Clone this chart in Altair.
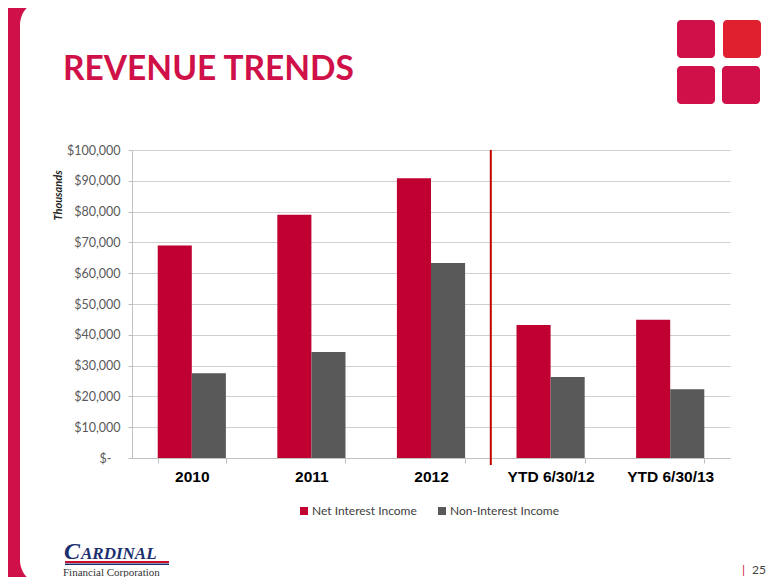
import altair as alt
import pandas as pd

# ---- data ----
categories = ["2010", "2011", "2012", "YTD 6/30/12", "YTD 6/30/13"]
net_interest = [69000, 79000, 90800, 43200, 44900]
non_interest = [27500, 34400, 63300, 26300, 22300]
series_names = ["Net Interest Income", "Non-Interest Income"]
series_colors = ["#C00030", "#595959"]
divider_category = "YTD 6/30/12"
y_ticks = [0, 10000, 20000, 30000, 40000, 50000, 60000, 70000, 80000, 90000, 100000]

rows = []
for c, a, b in zip(categories, net_interest, non_interest):
    rows.append({"category": c, "series": series_names[0], "value": a})
    rows.append({"category": c, "series": series_names[1], "value": b})
df = pd.DataFrame(rows)

# ---- layout ----
W, H = 598, 308
OX, OY = 132, 150  # page position of plot origin
PAD_IN, PAD_OUT = 0.43, 0.215
step = W / len(categories)

def px(x):
    return x - OX

def py(y):
    return y - OY

XFONT = "Liberation Sans, Arial, sans-serif"
BODY = "Lato, Open Sans, sans-serif"
SERIF = "Liberation Serif, DejaVu Serif, serif"
ACCENT = "#D01048"

one = alt.Data(values=[{"k": 0}])

def rect(x1, x2, y1, y2, color, **kw):
    return alt.Chart(one).mark_rect(color=color, **kw).encode(
        x=alt.value(px(x1)), x2=alt.value(px(x2)),
        y=alt.value(py(y1)), y2=alt.value(py(y2)))

def text(t, x, y, **kw):
    return alt.Chart(one).mark_text(text=t, align="left", baseline="alphabetic", **kw).encode(
        x=alt.value(px(x)), y=alt.value(py(y)))

# ---- decorations ----
deco = [
    rect(8, 20, 8, 577, ACCENT),
    rect(20, 50, 8, 40, ACCENT),
    rect(20, 80, 0, 60, "white", cornerRadiusTopLeft=25),
    rect(20, 50, 540, 577, ACCENT),
    rect(20, 80, 520, 585, "white", cornerRadiusBottomLeft=25),
    rect(677, 715, 20, 58, ACCENT, cornerRadius=4),
    rect(723, 761, 20, 58, "#E0202E", cornerRadius=4),
    rect(677, 715, 66, 104, ACCENT, cornerRadius=4),
    rect(722, 760, 66, 104, ACCENT, cornerRadius=4),
]

title = text("REVENUE TRENDS", 63, 80, font=BODY, fontSize=33.5,
             fontWeight="bold", color=ACCENT)

logo = [
    text("C", 64, 559, font=SERIF, fontSize=24, fontWeight="bold",
         fontStyle="italic", color="#1B2F6E"),
    text("ARDINAL", 81, 559, font=SERIF, fontSize=17, fontWeight="bold",
         fontStyle="italic", color="#1B2F6E"),
    rect(65, 169, 561, 563, "#C8102E"),
    rect(65, 169, 563.5, 565, "#1B2F6E"),
    text("Financial Corporation", 63, 576, font=SERIF, fontSize=11,
         color="#333333"),
    text("|", 742, 574, font=BODY, fontSize=12, color=ACCENT),
    text("25", 752, 574, font=BODY, fontSize=12, color="#404040"),
]

# ---- chart ----
x_scale = alt.Scale(domain=categories, paddingInner=PAD_IN, paddingOuter=PAD_OUT)
y_scale = alt.Scale(domain=[0, 100000], nice=False)

x_axis = alt.Axis(title=None, labelAngle=0, tickBand="extent",
                  tickSize=5, tickColor="#BFBFBF", domainColor="#BFBFBF",
                  labelFont=XFONT, labelFontSize=15.5, labelFontWeight="bold",
                  labelColor="#000000", labelPadding=6, grid=False)
y_axis = alt.Axis(title="Thousands", values=y_ticks, labelOverlap=False,
                  labelExpr="datum.value == 0 ? '$-' : '$' + format(datum.value, ',')",
                  labelFont=BODY, labelFontSize=12.5, labelColor="#595959",
                  labelPadding={"condition": {"test": "datum.value == 0", "value": 17},
                                "value": 8},
                  tickSize=4, tickColor="#BFBFBF",
                  domainColor="#BFBFBF", gridColor="#CFCFCF",
                  titleFont=BODY, titleFontSize=11, titleFontWeight="bold",
                  titleFontStyle="italic", titleColor="#262626",
                  titleAngle=-90, titleX=px(58), titleY=py(195),
                  titleAlign="center", titleBaseline="middle")

bars = alt.Chart(df).mark_bar().encode(
    x=alt.X("category:N", scale=x_scale, sort=categories, axis=x_axis),
    xOffset=alt.XOffset("series:N", sort=series_names,
                        scale=alt.Scale(paddingInner=0, paddingOuter=0)),
    y=alt.Y("value:Q", scale=y_scale, axis=y_axis),
    color=alt.Color("series:N",
                    scale=alt.Scale(domain=series_names, range=series_colors),
                    legend=alt.Legend(orient="none", legendX=px(298), legendY=py(505),
                                      direction="horizontal", title=None,
                                      symbolType="square", symbolSize=64,
                                      symbolStrokeWidth=0, labelFont=BODY,
                                      labelFontSize=12, labelColor="#404040",
                                      labelOffset=2, columnPadding=19)),
)

divider = alt.Chart(one).mark_rule(
    color="#C00000", strokeWidth=2,
    xOffset=-(PAD_IN * step) / 2, y2Offset=7,
).encode(
    x=alt.XDatum(divider_category, bandPosition=0, scale=x_scale, axis=x_axis),
    y=alt.YDatum(100000, scale=y_scale, axis=y_axis),
    y2=alt.Y2Datum(0),
)

chart = alt.layer(*deco, title, *logo, bars, divider).properties(
    width=W, height=H,
    autosize=alt.AutoSizeParams(type="none"),
    padding={"left": OX - 8, "top": OY - 8, "right": 764 - (OX - 8) - W,
             "bottom": 569 - (OY - 8) - H},
    background="white",
).configure_view(stroke=None)

chart.save("out.html", embed_options={"renderer": "svg", "actions": False})
